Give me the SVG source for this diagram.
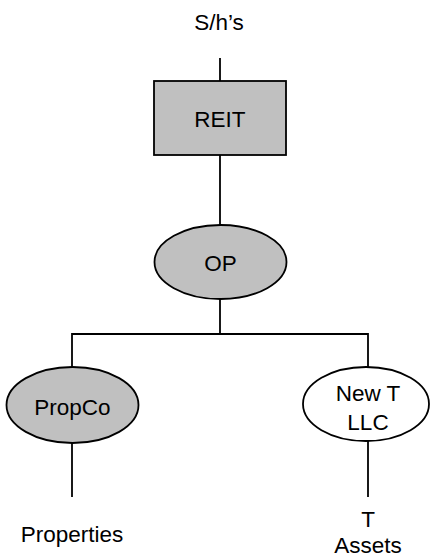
<svg xmlns="http://www.w3.org/2000/svg" width="431" height="558" viewBox="0 0 431 558">
  <style>
    .shape { stroke: #000; stroke-width: 1.8; }
    .grey { fill: #c0c0c0; }
    .white { fill: #fff; }
    .link { stroke: #000; stroke-width: 1.8; fill: none; }
    text { font-family: "Liberation Sans", Arial, sans-serif; font-size: 22.5px; fill: #000; text-anchor: middle; }
  </style>
  <rect width="431" height="558" fill="#fff"/>

  <!-- connectors -->
  <g id="connectors">
    <line class="link" x1="220" y1="58" x2="220" y2="81"/>
    <line class="link" x1="220" y1="155" x2="220" y2="225"/>
    <line class="link" x1="220" y1="299" x2="220" y2="334"/>
    <polyline class="link" points="72,367 72,334 368,334 368,367"/>
    <line class="link" x1="72" y1="443" x2="72" y2="497"/>
    <line class="link" x1="368" y1="441" x2="368" y2="497"/>
  </g>

  <g id="shareholders">
    <text x="219" y="30">S/h’s</text>
  </g>

  <g id="reit">
    <rect class="shape grey" x="154" y="81" width="132" height="74"/>
    <text x="220" y="127">REIT</text>
  </g>

  <g id="op">
    <ellipse class="shape grey" cx="220.5" cy="262" rx="66" ry="37"/>
    <text x="220.5" y="270.5">OP</text>
  </g>

  <g id="propco">
    <ellipse class="shape grey" cx="72.5" cy="405" rx="66" ry="38"/>
    <text x="72.5" y="415">PropCo</text>
  </g>

  <g id="newt-llc">
    <ellipse class="shape white" cx="366" cy="404" rx="63" ry="37"/>
    <text x="368" y="401">New T</text>
    <text x="368" y="430">LLC</text>
  </g>

  <g id="properties">
    <text x="72" y="542">Properties</text>
  </g>

  <g id="t-assets">
    <text x="368" y="527">T</text>
    <text x="368" y="553">Assets</text>
  </g>
</svg>
